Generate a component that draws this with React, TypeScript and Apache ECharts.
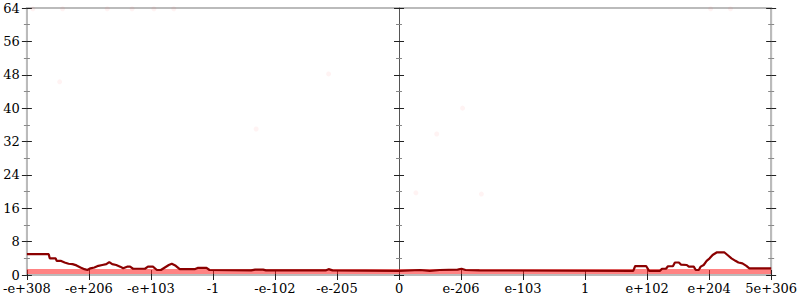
import React, { useEffect, useRef } from "react";
import * as echarts from "echarts";

const xLabels = ["-e+308", "-e+206", "-e+103", "-1", "-e-102", "-e-205", "0", "e-206", "e-103", "1", "e+102", "e+204", "5e+306"];
const yTicks = { min: 0, max: 64, interval: 8 };

// main step-like density line: [position, value]
const lineX = [
  -6, -5.648, -5.632, -5.536, -5.52, -5.456, -5.392, -5.328, -5.264, -5.2, -5.136, -5.072, -5.024, -4.976, -4.912,
  -4.848, -4.784, -4.72, -4.672, -4.624, -4.56, -4.496, -4.448, -4.384, -4.336, -4.288, -4.096, -4.048, -3.968,
  -3.904, -3.84, -3.776, -3.712, -3.664, -3.6, -3.536, -3.296, -3.248, -3.104, -3.056, -2.384, -2.32, -2.192,
  -2.144, -1.184, -1.136, -1.072, 0, 0.336, 0.496, 0.656, 0.944, 1.008, 1.072, 1.296,
  3.776, 3.808, 3.984, 4.032, 4.208, 4.24, 4.304, 4.336, 4.416, 4.448, 4.512, 4.544, 4.64, 4.672, 4.752, 4.784,
  4.832, 4.864, 4.912, 4.96, 5.008, 5.056, 5.12, 5.248, 5.296, 5.36, 5.424, 5.472, 5.536, 5.6, 5.648, 6,
];
const lineY = [
  5.0, 5.0, 4.0, 4.0, 3.4, 3.4, 3.0, 2.7, 2.6, 2.3, 1.8, 1.4, 1.2, 1.6, 1.8,
  2.2, 2.4, 2.6, 3.1, 2.6, 2.4, 2.0, 1.6, 2.0, 2.0, 1.5, 1.5, 2.0, 2.0,
  1.2, 1.2, 1.8, 2.4, 2.7, 2.2, 1.4, 1.4, 1.7, 1.7, 1.2, 1.1, 1.3, 1.3,
  1.1, 1.1, 1.4, 1.1, 1.0, 1.2, 1.0, 1.2, 1.3, 1.5, 1.2, 1.1,
  1.0, 2.15, 2.15, 1.0, 1.0, 1.5, 1.5, 2.1, 2.1, 3.0, 3.0, 2.5, 2.4, 2.0, 2.0, 1.2,
  1.2, 2.0, 2.4, 3.4, 4.0, 4.8, 5.4, 5.4, 4.8, 4.0, 3.4, 3.0, 2.8, 2.2, 1.6, 1.6,
];

// dense band of faint points along the bottom
const bandX = [-6, 6];
const bandY = [0.85, 0.85];

// scattered faint outlier points
const outX = [-5.472, -2.304, -1.136, 0.272, 0.608, 1.024, 1.328, -5.904, -5.424, -4.704, -4.304, -3.952, -3.632, 5.024, 5.344];
const outY = [46.3, 35.0, 48.2, 19.7, 33.8, 40.0, 19.4, 63.8, 63.8, 63.8, 63.8, 63.8, 63.8, 63.8, 63.8];

const FONT = "DejaVu Serif";

function yAxisDef(kind: "left" | "center" | "right", inside: boolean, labels: boolean) {
  const lineColor = kind === "center" ? "#555" : "#bbb";
  return {
    type: "value",
    min: yTicks.min,
    max: yTicks.max,
    interval: yTicks.interval,
    position: kind === "right" ? "right" : "left",
    axisLine: {
      show: !inside,
      onZero: kind === "center",
      onZeroAxisIndex: 0,
      lineStyle: { color: lineColor, width: kind === "center" ? 1 : 2 },
    },
    axisTick: { show: true, inside, length: 5, lineStyle: { color: "#222", width: 1 } },
    minorTick: { show: true, splitNumber: 2, length: 3, lineStyle: { color: "#888", width: 1 } },
    axisLabel: {
      show: labels,
      margin: 7,
      color: "#000",
      fontFamily: FONT,
      fontSize: 13,
    },
    splitLine: { show: false },
    minorSplitLine: { show: false },
  };
}

function xAxisDef(inside: boolean, labels: boolean) {
  return {
    type: "value",
    min: -6,
    max: 6,
    interval: 1,
    position: "bottom",
    axisLine: { show: !inside, onZero: false, lineStyle: { color: "#bbb", width: 2 } },
    axisTick: { show: true, inside, length: 5, lineStyle: { color: "#222", width: 1 } },
    axisLabel: {
      show: labels,
      margin: 7,
      color: "#000",
      fontFamily: FONT,
      fontSize: 13,
      formatter: (v: number) => xLabels[Math.round(v) + 6] ?? "",
    },
    splitLine: { show: false },
  };
}

export default function App() {
  const ref = useRef<HTMLDivElement>(null);
  useEffect(() => {
    if (!ref.current) return;
    const chart = echarts.init(ref.current, undefined, { renderer: "svg" });
    chart.setOption({
      animation: false,
      backgroundColor: "#fff",
      grid: { left: 24, right: 26, top: 8, bottom: 25, show: true, borderColor: "#bbb", borderWidth: 2, backgroundColor: "transparent" },
      xAxis: [xAxisDef(false, true), xAxisDef(true, false)],
      yAxis: [
        yAxisDef("left", false, true),
        yAxisDef("left", true, false),
        yAxisDef("center", false, false),
        yAxisDef("center", true, false),
        yAxisDef("right", false, false),
        yAxisDef("right", true, false),
      ],
      series: [
        {
          type: "line",
          data: bandX.map((x, i) => [x, bandY[i]]),
          showSymbol: false,
          silent: true,
          lineStyle: { color: "rgba(255,30,30,0.55)", width: 5 },
          z: 1,
        },
        {
          type: "scatter",
          data: outX.map((x, i) => [x, outY[i]]),
          symbolSize: 5,
          silent: true,
          itemStyle: { color: "rgba(255,60,60,0.08)" },
          z: 1,
        },
        {
          type: "line",
          data: lineX.map((x, i) => [x, lineY[i]]),
          showSymbol: false,
          silent: true,
          lineStyle: { color: "#8b0000", width: 2.2 },
          z: 3,
        },
      ],
    });
    return () => chart.dispose();
  }, []);
  return <div ref={ref} style={{ width: 800, height: 300, position: "absolute", left: 0, top: 0 }} />;
}
